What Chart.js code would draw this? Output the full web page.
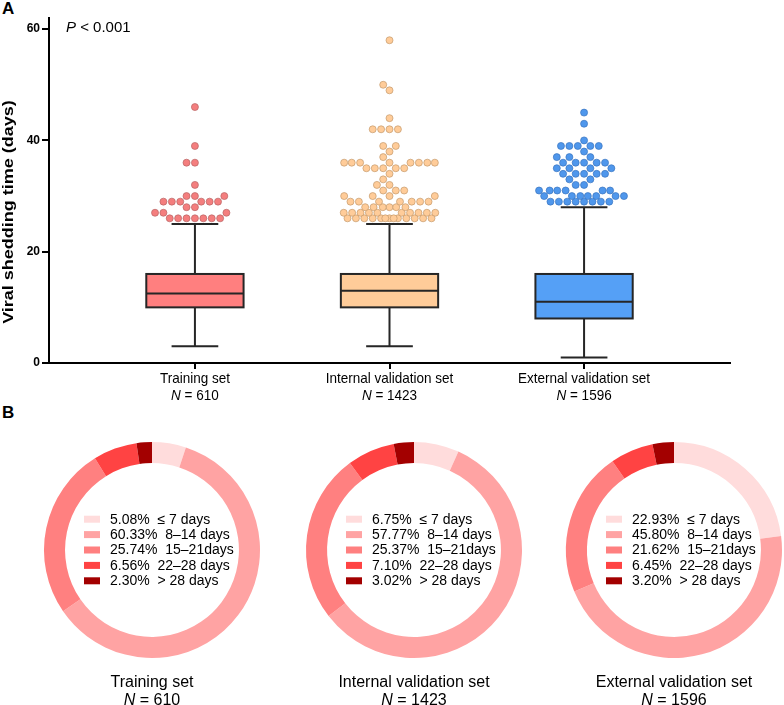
<!DOCTYPE html>
<html>
<head>
<meta charset="utf-8">
<script src="https://cdn.jsdelivr.net/npm/chart.js@4.4.1/dist/chart.umd.min.js"></script>
<style>
  html, body { margin: 0; padding: 0; background: #fff; overflow: hidden; }
  body { width: 784px; height: 705px; position: relative; font-family: 'Liberation Sans', Arial, sans-serif; }
  .tag { position: absolute; font-weight: bold; font-size: 17px; line-height: 1; color: #000; }
  canvas { position: absolute; }
</style>
</head>
<body>
<div class="tag" style="left:2px;top:0px">A</div>
<div class="tag" style="left:2px;top:404px">B</div>
<canvas id="boxChart" width="784" height="420" style="left:0;top:0"></canvas>
<canvas id="donut0" width="236" height="275"></canvas>
<canvas id="donut1" width="236" height="275"></canvas>
<canvas id="donut2" width="236" height="275"></canvas>
<script>
(() => {
    if (!window.Chart) return;

    const FONT = "'Liberation Sans', Arial, Helvetica, sans-serif";
    Chart.defaults.font.family = FONT;
    Chart.defaults.color = '#000';

    // groups
    const categories = ['Training set', 'Internal validation set', 'External validation set'];
    const sampleSizes = [610, 1423, 1596];

    // box plot summary (days)
    const whiskerLow = [3, 3, 1];
    const q1 = [10, 10, 8];
    const median = [12.5, 13, 11];
    const q3 = [16, 16, 16];
    const whiskerHigh = [25, 25, 28];
    const yTicks = [0, 20, 40, 60];

    // outliers above upper whisker (days)
    const trainingOutliers = [26, 26, 26, 26, 26, 26, 26, 27, 27, 27, 28, 28,
        29, 29, 29, 29, 29, 29, 30, 30, 30, 32, 36, 36, 39, 46];
    const internalOutliers = [26, 26, 26, 26, 26, 26, 26, 26, 26, 26, 26, 26, 26,
        27, 27, 27, 27, 27, 27, 27, 27, 27, 27, 28, 28, 28, 28, 28, 28,
        29, 29, 29, 29, 29, 29, 29, 30, 30, 30, 30, 31, 31, 31, 32, 32, 33, 34,
        35, 35, 35, 35, 35, 36, 36, 36, 36, 36, 36, 36, 36, 37, 38, 39, 39,
        42, 42, 42, 42, 44, 49, 50, 58];
    const externalOutliers = [29, 29, 29, 29, 29, 29, 29, 29, 30, 30, 30, 30, 30, 30, 30,
        31, 31, 31, 31, 31, 31, 32, 32, 33, 33, 34, 34, 34, 34, 34,
        35, 35, 35, 35, 36, 36, 36, 36, 36, 37, 37, 37, 38,
        39, 39, 39, 39, 39, 40, 43, 45];

    // doughnut shares (%)
    const durationLabels = ['≤ 7 days', '8–14 days', '15–21days', '22–28 days', '> 28 days'];
    const trainingShares = [5.08, 60.33, 25.74, 6.56, 2.30];
    const internalShares = [6.75, 57.77, 25.37, 7.10, 3.02];
    const externalShares = [22.93, 45.80, 21.62, 6.45, 3.20];

    const boxFill = ['#FF7F7F', '#FFCC99', '#55A0F6'];
    const dotFill = ['#F47E7E', '#FFCC99', '#4F97EC'];
    const dotEdge = ['#B86464', '#C49A6C', '#3A74BE'];
    const durationColors = ['#FFDCDC', '#FFA3A3', '#FF8080', '#FF4343', '#A30000'];

    const outlierSets = [trainingOutliers, internalOutliers, externalOutliers];

    // "N = 610" with italic N
    function drawN(ctx, n, x, baseline, size) {
        const it = `italic ${size}px ${FONT}`;
        const nm = `${size}px ${FONT}`;
        const rest = ` = ${n}`;
        ctx.font = it;
        const w1 = ctx.measureText('N').width;
        ctx.font = nm;
        const w2 = ctx.measureText(rest).width;
        const x0 = x - (w1 + w2) / 2;
        ctx.textAlign = 'left';
        ctx.font = it;
        ctx.fillText('N', x0, baseline);
        ctx.font = nm;
        ctx.fillText(rest, x0 + w1, baseline);
    }

    // boxes + whiskers drawn from the scales
    const boxPlugin = {
        id: 'boxes',
        beforeDatasetsDraw(chart) {
            const { ctx, scales: { x, y } } = chart;
            ctx.save();
            ctx.strokeStyle = '#262626';
            ctx.lineWidth = 2;
            categories.forEach((c, i) => {
                const cx = x.getPixelForValue(i + 1);
                const half = x.getPixelForValue(i + 1.25) - cx;
                const cap = x.getPixelForValue(i + 1.12) - cx;
                const yl = y.getPixelForValue(whiskerLow[i]);
                const yh = y.getPixelForValue(whiskerHigh[i]);
                const y1 = y.getPixelForValue(q1[i]);
                const y3 = y.getPixelForValue(q3[i]);
                const ym = y.getPixelForValue(median[i]);

                ctx.beginPath();
                ctx.moveTo(cx, yl); ctx.lineTo(cx, y1);
                ctx.moveTo(cx, y3); ctx.lineTo(cx, yh);
                ctx.moveTo(cx - cap, yl); ctx.lineTo(cx + cap, yl);
                ctx.moveTo(cx - cap, yh); ctx.lineTo(cx + cap, yh);
                ctx.stroke();

                ctx.fillStyle = boxFill[i];
                ctx.fillRect(cx - half, y3, half * 2, y1 - y3);
                ctx.strokeRect(cx - half, y3, half * 2, y1 - y3);

                ctx.beginPath();
                ctx.moveTo(cx - half, ym); ctx.lineTo(cx + half, ym);
                ctx.stroke();
            });
            ctx.restore();
        },
        afterDraw(chart) {
            const { ctx, scales: { x, y } } = chart;
            ctx.save();
            ctx.fillStyle = '#000';
            ctx.textBaseline = 'alphabetic';

            // x labels (condensed like the original)
            categories.forEach((c, i) => {
                const cx = x.getPixelForValue(i + 1);
                ctx.save();
                ctx.translate(cx, 0);
                ctx.scale(0.9, 1);
                ctx.font = `15px ${FONT}`;
                ctx.textAlign = 'center';
                ctx.fillText(c, 0, y.bottom + 20);
                drawN(ctx, sampleSizes[i], 0, y.bottom + 37, 15);
                ctx.restore();
            });

            // y title
            ctx.save();
            ctx.translate(9, 212);
            ctx.rotate(-Math.PI / 2);
            ctx.scale(1.2, 1);
            ctx.font = `bold 15px ${FONT}`;
            ctx.textAlign = 'center';
            ctx.textBaseline = 'middle';
            ctx.fillText('Viral shedding time (days)', 0, 0);
            ctx.restore();

            // P value
            ctx.font = `italic 15px ${FONT}`;
            ctx.textAlign = 'left';
            const pw = ctx.measureText('P').width;
            ctx.fillText('P', 66, 32);
            ctx.font = `15px ${FONT}`;
            ctx.fillText(' < 0.001', 66 + pw, 32);
            ctx.restore();
        }
    };

    const boxEl = document.getElementById('boxChart');
    const boxChart = new Chart(boxEl.getContext('2d'), {
        type: 'scatter',
        data: {
            datasets: outlierSets.map((vals, i) => ({
                label: categories[i],
                data: vals.map(v => ({ x: i + 1, y: v })),
                pointRadius: 3.5,
                pointHoverRadius: 3.5,
                pointBackgroundColor: dotFill[i],
                pointBorderColor: dotEdge[i],
                pointBorderWidth: 0.7
            }))
        },
        options: {
            responsive: false,
            animation: false,
            layout: { padding: { top: 18, right: 54, bottom: 0, left: 0 } },
            plugins: { legend: { display: false }, tooltip: { enabled: false } },
            scales: {
                x: {
                    type: 'linear',
                    min: 0.25,
                    max: 3.75,
                    afterBuildTicks: (s) => { s.ticks = [1, 2, 3].map(v => ({ value: v })); },
                    afterFit: (s) => { s.height = 57; },
                    grid: { drawOnChartArea: false, drawTicks: true, tickLength: 6, color: '#000', lineWidth: 2 },
                    border: { display: true, color: '#000', width: 2 },
                    ticks: { callback: () => '' }
                },
                y: {
                    min: 0,
                    max: 62,
                    afterBuildTicks: (s) => { s.ticks = yTicks.map(v => ({ value: v })); },
                    afterFit: (s) => { s.width = 49; },
                    grid: { drawOnChartArea: false, drawTicks: true, tickLength: 7, color: '#000', lineWidth: 2 },
                    border: { display: true, color: '#000', width: 2 },
                    ticks: { padding: 2, color: '#000', font: { size: 12, weight: 'bold' } }
                }
            }
        },
        plugins: [boxPlugin]
    });

    // beeswarm spread of the outlier dots, in pixels, then back to values
    function swarm(values, catX) {
        const xs = boxChart.scales.x, ys = boxChart.scales.y;
        const cx = xs.getPixelForValue(catX);
        const d = 8.4, wMax = 46;
        const placed = [];
        values.slice().sort((a, b) => a - b).forEach(v => {
            const py = ys.getPixelForValue(v);
            let best = null;
            for (const f of [1, 0.9, 0.8, 0.7, 0.6, 0.5, 0.4]) {
                const dd = d * f;
                const cands = [0];
                placed.forEach(p => {
                    const dy = Math.abs(p.py - py);
                    if (dy < dd) {
                        const dx = Math.sqrt(dd * dd - dy * dy);
                        cands.push(p.dx + dx, p.dx - dx);
                    }
                });
                const ok = cands.filter(c => Math.abs(c) <= wMax + 0.01 &&
                    placed.every(p => Math.hypot(p.dx - c, p.py - py) >= dd - 0.01));
                if (ok.length) {
                    ok.sort((a, b) => Math.abs(a) - Math.abs(b) || a - b);
                    best = ok[0];
                    break;
                }
            }
            placed.push({ dx: best === null ? 0 : best, py, v });
        });
        return placed.map(p => ({ x: xs.getValueForPixel(cx + p.dx), y: p.v }));
    }

    outlierSets.forEach((vals, i) => {
        boxChart.data.datasets[i].data = swarm(vals, i + 1);
    });
    boxChart.update('none');

    // doughnuts
    const donutCenters = [152, 414, 674];
    const donutCy = 550;
    const shareSets = [trainingShares, internalShares, externalShares];

    const donutText = {
        id: 'donutText',
        afterDraw(chart) {
            const { ctx } = chart;
            const i = chart.options.setIndex;
            const shares = chart.data.datasets[0].data;
            const cols = chart.data.datasets[0].backgroundColor;
            const arc = chart.getDatasetMeta(0).data[0];
            const cx = arc.x, cy = arc.y;
            ctx.save();
            ctx.textBaseline = 'middle';
            ctx.textAlign = 'left';
            ctx.font = `14px ${FONT}`;
            shares.forEach((s, k) => {
                const ry = cy + (k - 2) * 15.4;
                ctx.fillStyle = cols[k];
                ctx.fillRect(cx - 68, ry - 3.5, 16, 7);
                ctx.fillStyle = '#000';
                ctx.fillText(`${s.toFixed(2)}%  ${chart.data.labels[k]}`, cx - 42, ry + 0.5);
            });
            ctx.textBaseline = 'alphabetic';
            ctx.textAlign = 'center';
            ctx.font = `16px ${FONT}`;
            ctx.fillText(categories[i], cx, cy + 137);
            drawN(ctx, sampleSizes[i], cx, cy + 155, 16);
            ctx.restore();
        }
    };

    shareSets.forEach((shares, i) => {
        const el = document.getElementById('donut' + i);
        el.style.left = (donutCenters[i] - 118) + 'px';
        el.style.top = (donutCy - 118) + 'px';
        new Chart(el.getContext('2d'), {
            type: 'doughnut',
            data: {
                labels: durationLabels,
                datasets: [{
                    data: shares,
                    backgroundColor: durationColors,
                    borderWidth: 0
                }]
            },
            options: {
                setIndex: i,
                responsive: false,
                animation: false,
                cutout: '80.5%',
                layout: { padding: { top: 10, left: 10, right: 10, bottom: 49 } },
                plugins: { legend: { display: false }, tooltip: { enabled: false } }
            },
            plugins: [donutText]
        });
    });
})();
</script>
</body>
</html>
